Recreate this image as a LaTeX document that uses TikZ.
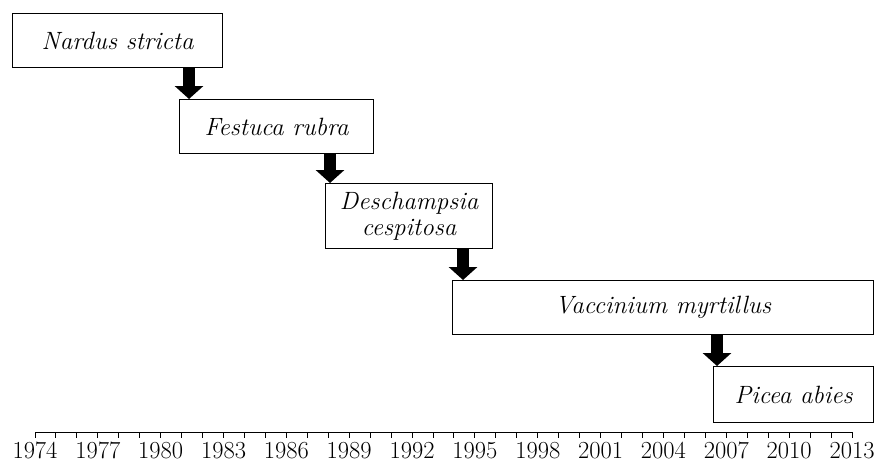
\documentclass[tikz,border=0pt]{standalone}
\usetikzlibrary{arrows.meta}
\begin{document}
\begin{tikzpicture}[x=1pt,y=-1pt,
  box/.style={draw, line width=1.2pt, inner sep=0pt, anchor=north west,
    font=\fontsize{25}{26}\selectfont\itshape, align=center},
  bigarrow/.style={line width=12pt, -{Triangle[width=28pt,length=13pt]}},
  tickmark/.style={line width=1pt},
  axisline/.style={line width=1pt},
  yearlabel/.style={font=\fontsize{24.5}{26}\selectfont, anchor=base, inner sep=0pt}]
\useasboundingbox (0,0) rectangle (880,464);
% boxes
\node[box, minimum width=210pt, minimum height=54pt] (n1) at (12,13) {Nardus stricta};
\node[box, minimum width=194pt, minimum height=54pt] (n2) at (179,99) {Festuca rubra};
\node[box, minimum width=167pt, minimum height=65pt] (n3) at (325,183) {Deschampsia\\cespitosa};
\node[box, minimum width=421pt, minimum height=54pt] (n4) at (452,280) {Vaccinium myrtillus};
\node[box, minimum width=160pt, minimum height=56pt] (n5) at (713,366) {Picea abies};
% arrows
\coordinate (c1) at (189,0);
\coordinate (c2) at (330,0);
\coordinate (c3) at (463,0);
\coordinate (c4) at (717,0);
\draw[bigarrow] (c1 |- n1.south) -- (c1 |- n2.north);
\draw[bigarrow] (c2 |- n2.south) -- (c2 |- n3.north);
\draw[bigarrow] (c3 |- n3.south) -- (c3 |- n4.north);
\draw[bigarrow] (c4 |- n4.south) -- (c4 |- n5.north);
% axis
\coordinate (a0) at (35,432);
\coordinate (a1) at (852,432);
\draw[axisline] (a0) -- (a1);
\foreach \i in {0,...,39} \draw[tickmark] ({35+\i*20.9487},432) -- ++(0,5.5);
\foreach \i [evaluate=\i as \yr using int(1974+3*\i)] in {0,...,13}
  \node[yearlabel] (y\i) at ({35+\i*62.846},458) {\yr};
\end{tikzpicture}
\end{document}
